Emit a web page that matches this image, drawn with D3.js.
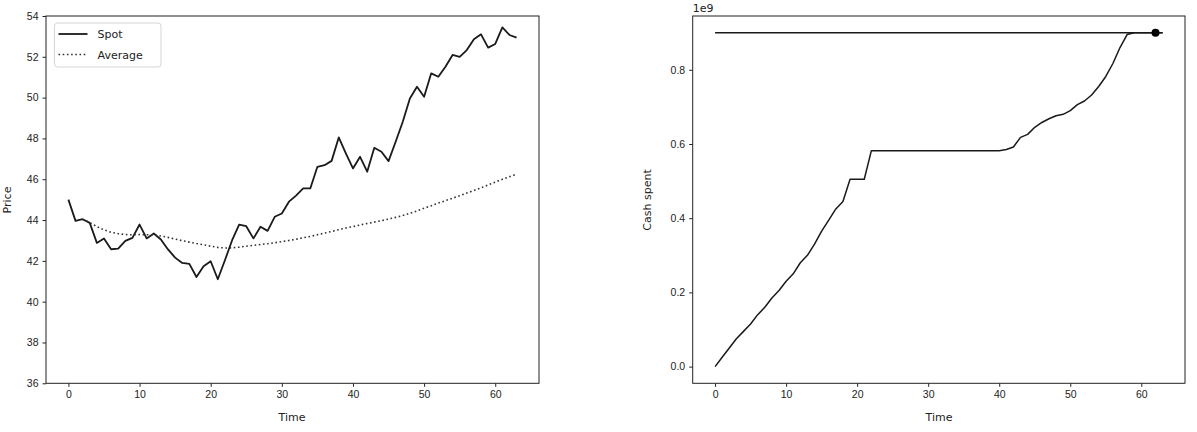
<!DOCTYPE html>
<html>
<head>
<meta charset="utf-8">
<script src="https://cdn.jsdelivr.net/npm/d3@7"></script>
<style>
  body { margin: 0; background: #fff; }
  svg { display: block; font-family: "DejaVu Sans", sans-serif; }
  .tick text { fill: #222; font-size: 10.5px; }
  .tick line { stroke: #222; }
</style>
</head>
<body>
<svg id="chart" width="1197" height="432"></svg>
<script>
// ---- data ----
const time = d3.range(0, 64);
const spot = [45.0, 43.96, 44.04, 43.86, 42.88, 43.1, 42.57, 42.6, 42.98, 43.13,
  43.78, 43.1, 43.34, 43.05, 42.56, 42.16, 41.9, 41.85, 41.21, 41.74,
  41.98, 41.1, 42.03, 43.0, 43.78, 43.7, 43.1, 43.67, 43.47, 44.16,
  44.32, 44.9, 45.2, 45.55, 45.55, 46.61, 46.69, 46.9, 48.05, 47.27,
  46.53, 47.1, 46.37, 47.54, 47.35, 46.89, 47.84, 48.82, 49.96, 50.53,
  50.04, 51.19, 51.02, 51.51, 52.09, 52.0, 52.33, 52.86, 53.1, 52.45,
  52.63, 53.44, 53.07, 52.94];
const avgTime = d3.range(2, 64);
const average = [44.03, 43.88, 43.68, 43.52, 43.40, 43.33, 43.29, 43.28, 43.29, 43.28,
  43.27, 43.22, 43.15, 43.07, 42.99, 42.92, 42.85, 42.79, 42.72, 42.66,
  42.63, 42.64, 42.67, 42.72, 42.76, 42.80, 42.84, 42.89, 42.94, 43.00,
  43.06, 43.13, 43.20, 43.28, 43.36, 43.44, 43.53, 43.61, 43.68, 43.76,
  43.83, 43.90, 43.97, 44.05, 44.13, 44.22, 44.33, 44.45, 44.58, 44.70,
  44.83, 44.95, 45.07, 45.19, 45.32, 45.45, 45.58, 45.72, 45.86, 46.0,
  46.12, 46.25];
const cash = [0.0, 0.025, 0.05, 0.075, 0.095, 0.115, 0.14, 0.16, 0.185, 0.205,
  0.23, 0.25, 0.28, 0.3, 0.33, 0.365, 0.395, 0.425, 0.445, 0.505,
  0.505, 0.505, 0.582, 0.582, 0.582, 0.582, 0.582, 0.582, 0.582, 0.582,
  0.582, 0.582, 0.582, 0.582, 0.582, 0.582, 0.582, 0.582, 0.582, 0.582,
  0.582, 0.585, 0.592, 0.618, 0.626, 0.645, 0.658, 0.668, 0.676, 0.68,
  0.69, 0.706, 0.716, 0.732, 0.755, 0.782, 0.817, 0.86, 0.895, 0.9,
  0.9, 0.9, 0.9, 0.9]; // units of 1e9
const target = 0.9;
const targetSpan = [0, 63];
const targetDot = 62;
const priceTicks = [36, 38, 40, 42, 44, 46, 48, 50, 52, 54];
const timeTicks = [0, 10, 20, 30, 40, 50, 60];
const cashTicks = [0.0, 0.2, 0.4, 0.6, 0.8];

const svg = d3.select("#chart");
const plotTop = 16, plotBottom = 383.3;

function frame(g, x) {
  const [x0, x1] = x.range();
  g.append("rect").attr("x", x0).attr("y", plotTop).attr("width", x1 - x0).attr("height", plotBottom - plotTop)
    .attr("fill", "none").attr("stroke", "#222").attr("stroke-width", 1);
}

// ---- Left chart ----
const xL = d3.scaleLinear().domain([-3.15, 66.15]).range([46, 539]);
const yL = d3.scaleLinear().domain([36, 54]).range([plotBottom, plotTop]);
const gL = svg.append("g");

gL.append("g").attr("transform", `translate(0,${plotBottom})`)
  .call(d3.axisBottom(xL).tickValues(timeTicks).tickSize(3.5).tickPadding(4).tickFormat(d3.format("d")))
  .call(g => g.select(".domain").remove());
gL.append("g").attr("transform", `translate(46,0)`)
  .call(d3.axisLeft(yL).tickValues(priceTicks).tickSize(3.5).tickPadding(4).tickFormat(d3.format("d")))
  .call(g => g.select(".domain").remove());

gL.append("path").datum(time.map((t, i) => [t, spot[i]]))
  .attr("fill", "none").attr("stroke", "#1a1a1a").attr("stroke-width", 1.8)
  .attr("stroke-linejoin", "round")
  .attr("d", d3.line().x(d => xL(d[0])).y(d => yL(d[1])));
gL.append("path").datum(avgTime.map((t, i) => [t, average[i]]))
  .attr("fill", "none").attr("stroke", "#333").attr("stroke-width", 1.6)
  .attr("stroke-dasharray", "1.6,2.6")
  .attr("d", d3.line().x(d => xL(d[0])).y(d => yL(d[1])));
frame(gL, xL);

gL.append("text").attr("x", 292).attr("y", 421).attr("text-anchor", "middle")
  .attr("font-size", 11).attr("fill", "#222").text("Time");
gL.append("text").attr("transform", "translate(11,200) rotate(-90)").attr("text-anchor", "middle")
  .attr("font-size", 11).attr("fill", "#222").text("Price");

// legend
const leg = gL.append("g");
leg.append("rect").attr("x", 54.5).attr("y", 23).attr("width", 106.5).attr("height", 44)
  .attr("rx", 3).attr("fill", "#fff").attr("fill-opacity", 0.8).attr("stroke", "#d6d6d6");
leg.append("line").attr("x1", 58.5).attr("x2", 87.5).attr("y1", 34).attr("y2", 34)
  .attr("stroke", "#1a1a1a").attr("stroke-width", 1.8);
leg.append("line").attr("x1", 58.5).attr("x2", 87.5).attr("y1", 54.5).attr("y2", 54.5)
  .attr("stroke", "#333").attr("stroke-width", 1.6).attr("stroke-dasharray", "1.6,2.6");
leg.append("text").attr("x", 97.5).attr("y", 38).attr("font-size", 11).attr("fill", "#222").text("Spot");
leg.append("text").attr("x", 97.5).attr("y", 58.5).attr("font-size", 11).attr("fill", "#222").text("Average");

// ---- Right chart ----
const xR = d3.scaleLinear().domain([-3.15, 66.15]).range([692.7, 1185]);
const yR = d3.scaleLinear().domain([-0.045, 0.945]).range([plotBottom, plotTop]);
const gR = svg.append("g");

gR.append("g").attr("transform", `translate(0,${plotBottom})`)
  .call(d3.axisBottom(xR).tickValues(timeTicks).tickSize(3.5).tickPadding(4).tickFormat(d3.format("d")))
  .call(g => g.select(".domain").remove());
gR.append("g").attr("transform", `translate(692.7,0)`)
  .call(d3.axisLeft(yR).tickValues(cashTicks).tickSize(3.5).tickPadding(4).tickFormat(d3.format(".1f")))
  .call(g => g.select(".domain").remove());

gR.append("path").datum(targetSpan.map(t => [t, target]))
  .attr("fill", "none").attr("stroke", "#1a1a1a").attr("stroke-width", 1.6)
  .attr("d", d3.line().x(d => xR(d[0])).y(d => yR(d[1])));
gR.append("path").datum(time.map((t, i) => [t, cash[i]]))
  .attr("fill", "none").attr("stroke", "#1a1a1a").attr("stroke-width", 1.5)
  .attr("stroke-linejoin", "round")
  .attr("d", d3.line().x(d => xR(d[0])).y(d => yR(d[1])));
gR.append("circle").attr("cx", xR(targetDot)).attr("cy", yR(target)).attr("r", 4).attr("fill", "#000");
frame(gR, xR);

gR.append("text").attr("x", 939).attr("y", 421).attr("text-anchor", "middle")
  .attr("font-size", 11).attr("fill", "#222").text("Time");
gR.append("text").attr("transform", "translate(651,200) rotate(-90)").attr("text-anchor", "middle")
  .attr("font-size", 11).attr("fill", "#222").text("Cash spent");
gR.append("text").attr("x", 692.7).attr("y", 12).attr("font-size", 11).attr("fill", "#222").text("1e9");
</script>
</body>
</html>
